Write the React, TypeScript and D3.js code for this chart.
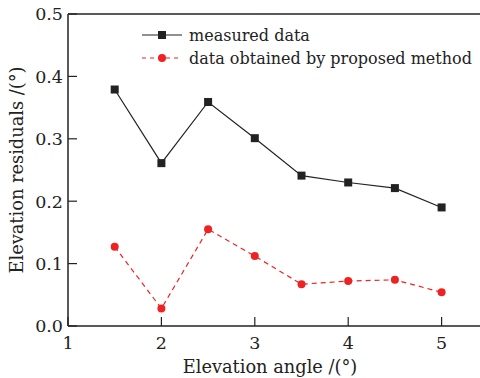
import React from "react";
import * as d3 from "d3";

const angles = [1.5, 2, 2.5, 3, 3.5, 4, 4.5, 5];
const measured = [0.379, 0.261, 0.359, 0.301, 0.241, 0.23, 0.221, 0.19];
const proposed = [0.127, 0.028, 0.155, 0.112, 0.067, 0.072, 0.074, 0.054];
const xTicks = [1, 2, 3, 4, 5];
const yTicks = [0, 0.1, 0.2, 0.3, 0.4, 0.5];
const seriesNames = ["measured data", "data obtained by proposed method"];

const W = 480;
const H = 378;
const FONT = "DejaVu Serif";

export default function App() {
  const x = d3.scaleLinear().domain([1, 5.5]).range([68, 488.3]);
  const y = d3.scaleLinear().domain([0, 0.5]).range([326, 14]);
  const line = d3
    .line<number>()
    .x((_, i) => x(angles[i]))
    .y((d) => y(d));
  const red = "#ee2222";
  const S = 8;
  return (
    <svg
      width={W}
      height={H}
      style={{ position: "absolute", left: 0, top: 0, background: "#fff" }}
      fontFamily={FONT}
    >
      {/* frame */}
      <line x1={68} x2={W} y1={14} y2={14} stroke="#222" strokeWidth={1.5} />
      <line x1={68} x2={W} y1={326} y2={326} stroke="#222" strokeWidth={1.5} />
      <line x1={68} x2={68} y1={14} y2={326} stroke="#222" strokeWidth={1.5} />
      {yTicks.map((t) => (
        <g key={"y" + t}>
          <line x1={68} x2={77} y1={y(t)} y2={y(t)} stroke="#222" strokeWidth={1.2} />
          <text x={63} y={y(t)} dy="0.36em" textAnchor="end" fontSize={17.5} fill="#222">
            {t.toFixed(1)}
          </text>
        </g>
      ))}
      {xTicks.map((t) => (
        <g key={"x" + t}>
          <line x1={x(t)} x2={x(t)} y1={326} y2={317} stroke="#222" strokeWidth={1.2} />
          <text x={x(t)} y={349} textAnchor="middle" fontSize={17.5} fill="#222">
            {t}
          </text>
        </g>
      ))}
      <text x={270} y={373} textAnchor="middle" fontSize={17.8} fill="#222">
        Elevation angle /(°)
      </text>
      <text
        transform={`translate(23,170) rotate(-90)`}
        textAnchor="middle"
        fontSize={17.8}
        fill="#222"
      >
        Elevation residuals /(°)
      </text>
      {/* series */}
      <path d={line(measured) || ""} fill="none" stroke="#222" strokeWidth={1.2} />
      {measured.map((v, i) => (
        <rect key={"m" + i} x={x(angles[i]) - S / 2} y={y(v) - S / 2} width={S} height={S} fill="#222" />
      ))}
      <path
        d={line(proposed) || ""}
        fill="none"
        stroke={red}
        strokeWidth={1.2}
        strokeDasharray="5,4"
      />
      {proposed.map((v, i) => (
        <circle key={"p" + i} cx={x(angles[i])} cy={y(v)} r={4} fill={red} />
      ))}
      {/* legend */}
      <line x1={142} x2={182} y1={35} y2={35} stroke="#222" strokeWidth={1.2} />
      <rect x={162 - S / 2} y={35 - S / 2} width={S} height={S} fill="#222" />
      <text x={189} y={35} dy="0.35em" fontSize={16} fill="#222">
        {seriesNames[0]}
      </text>
      <line x1={142} x2={182} y1={58} y2={58} stroke={red} strokeWidth={1.2} strokeDasharray="4,4" />
      <circle cx={162} cy={58} r={4} fill={red} />
      <text x={189} y={58} dy="0.35em" fontSize={16} fill="#222">
        {seriesNames[1]}
      </text>
    </svg>
  );
}
